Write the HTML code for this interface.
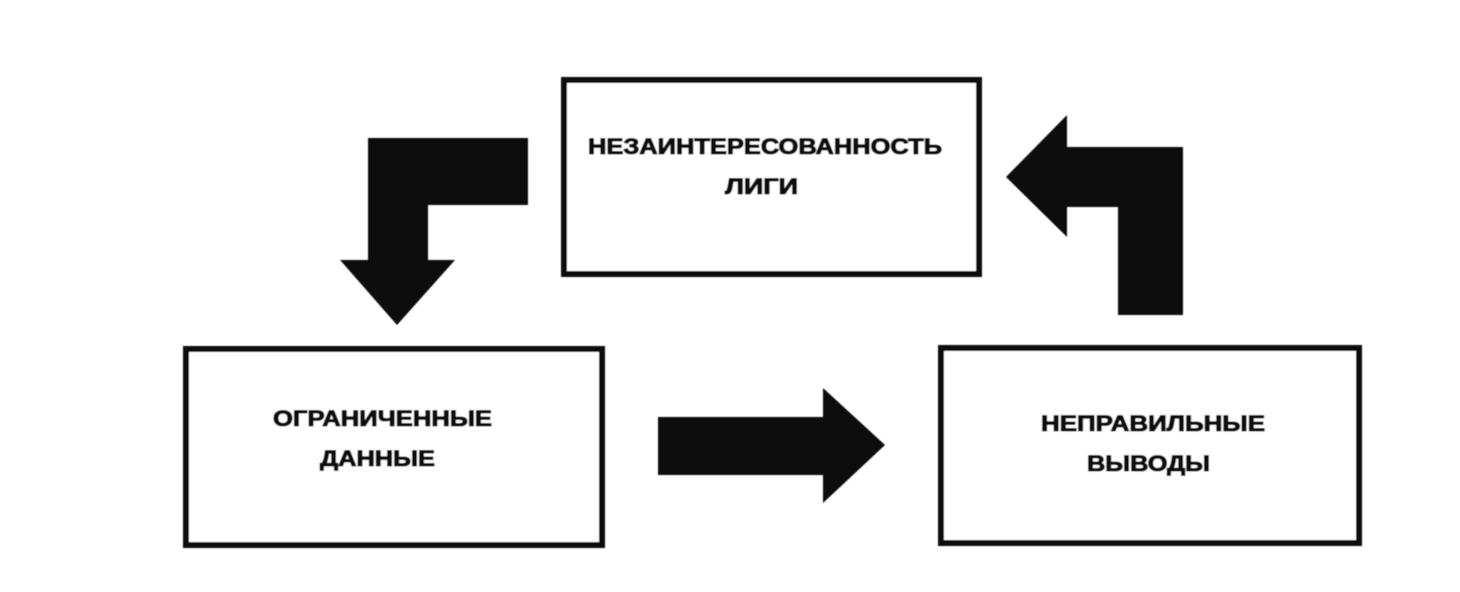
<!DOCTYPE html>
<html>
<head>
<meta charset="utf-8">
<style>
  html, body { margin: 0; padding: 0; background: #ffffff; overflow: hidden; }
  body { width: 1460px; height: 592px; }
  svg { display: block; }
  text { font-family: "Liberation Sans", "DejaVu Sans", sans-serif; font-weight: bold; fill: #111; stroke: #111; stroke-width: 1.1; stroke-linejoin: round; }
</style>
</head>
<body>
<svg width="1460" height="592" viewBox="0 0 1460 592" xmlns="http://www.w3.org/2000/svg">
  <defs>
    <filter id="soft" x="0" y="0" width="1460" height="592" filterUnits="userSpaceOnUse">
      <feGaussianBlur stdDeviation="0.6"/>
    </filter>
  </defs>
  <rect x="0" y="0" width="1460" height="592" fill="#ffffff"/>
  <g filter="url(#soft)">
    <!-- Boxes -->
    <rect x="564" y="80" width="415" height="194" fill="#fff" stroke="#111" stroke-width="6"/>
    <rect x="186" y="349" width="416" height="196" fill="#fff" stroke="#111" stroke-width="6"/>
    <rect x="941" y="348" width="418" height="195" fill="#fff" stroke="#111" stroke-width="6"/>

    <!-- Arrows -->
    <polygon points="528,138 368,138 368,260 340,260 397,325 455,260 428,260 428,205 528,205" fill="#111"/>
    <polygon points="1183,147 1067,147 1067,115 1006,177 1067,237 1067,207 1118,207 1118,315 1183,315" fill="#111"/>
    <polygon points="658,417 823,417 823,388 885,445 823,503 823,475 658,475" fill="#111"/>

    <!-- Labels -->
    <text x="588" y="154" font-size="22" textLength="354" lengthAdjust="spacingAndGlyphs">НЕЗАИНТЕРЕСОВАННОСТЬ</text>
    <text x="725" y="194" font-size="22" textLength="73" lengthAdjust="spacingAndGlyphs">ЛИГИ</text>

    <text x="273" y="426" font-size="22" textLength="219" lengthAdjust="spacingAndGlyphs">ОГРАНИЧЕННЫЕ</text>
    <text x="320" y="466" font-size="22" textLength="115" lengthAdjust="spacingAndGlyphs">ДАННЫЕ</text>

    <text x="1041" y="431" font-size="22" textLength="224" lengthAdjust="spacingAndGlyphs">НЕПРАВИЛЬНЫЕ</text>
    <text x="1087" y="471" font-size="22" textLength="123" lengthAdjust="spacingAndGlyphs">ВЫВОДЫ</text>
  </g>
</svg>
</body>
</html>
